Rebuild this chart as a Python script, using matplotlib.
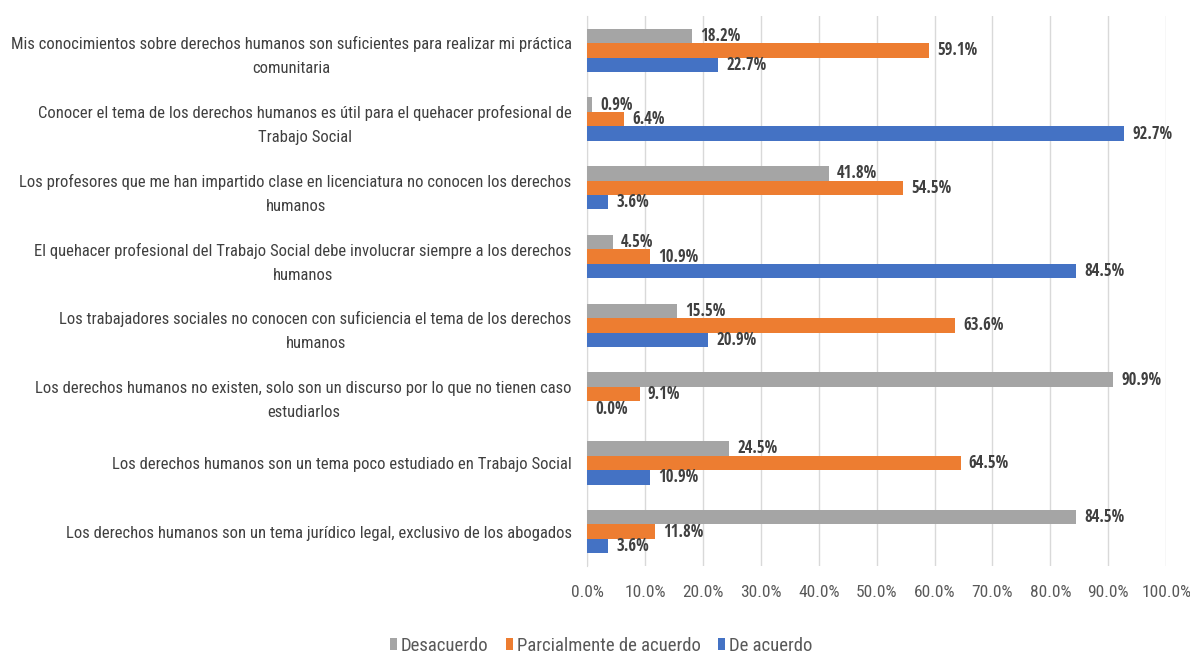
import numpy as np
import matplotlib.pyplot as plt
from matplotlib.ticker import FuncFormatter

plt.rcParams['font.family'] = ['Roboto Condensed', 'Carlito', 'DejaVu Sans']

categories = [
    'Mis conocimientos sobre derechos humanos son suficientes para realizar mi práctica\ncomunitaria',
    'Conocer el tema de los derechos humanos es útil para el quehacer profesional de\nTrabajo Social',
    'Los profesores que me han impartido clase en licenciatura no conocen los derechos\nhumanos',
    'El quehacer profesional del Trabajo Social debe involucrar siempre a los derechos\nhumanos',
    'Los trabajadores sociales no conocen con suficiencia el tema de los derechos\nhumanos',
    'Los derechos humanos no existen, solo son un discurso por lo que no tienen caso\nestudiarlos',
    'Los derechos humanos son un tema poco estudiado en Trabajo Social',
    'Los derechos humanos son un tema jurídico legal, exclusivo de los abogados',
]
desacuerdo = [18.2, 0.9, 41.8, 4.5, 15.5, 90.9, 24.5, 84.5]
parcial = [59.1, 6.4, 54.5, 10.9, 63.6, 9.1, 64.5, 11.8]
de_acuerdo = [22.7, 92.7, 3.6, 84.5, 20.9, 0.0, 10.9, 3.6]

series = [('Desacuerdo', desacuerdo, '#a5a5a5'),
          ('Parcialmente de acuerdo', parcial, '#ed7d31'),
          ('De acuerdo', de_acuerdo, '#4472c4')]

fig = plt.figure(figsize=(11.9, 6.54), dpi=100)
ax = fig.add_axes([0.4933, 0.1346, 0.4867, 0.841])

y = np.arange(len(categories))[::-1]
h = 0.21
for i, (name, vals, col) in enumerate(series):
    pos = y + h * (1 - i)
    ax.barh(pos, vals, height=h, color=col, label=name, zorder=3)
    for p, v in zip(pos, vals):
        ax.text(v + 1.4, p, f'{v:.1f}%', va='center', ha='left',
                family=['Open Sans Condensed', 'DejaVu Sans'],
                fontsize=12, fontweight='bold', color='#404040', zorder=4)

ax.set_xlim(0, 100)
ax.set_ylim(-0.5, len(categories) - 0.5)
ax.set_xticks(np.arange(0, 101, 10))
ax.xaxis.set_major_formatter(FuncFormatter(lambda v, _: f'{v:.1f}%'))
ax.set_yticks(y)
ax.set_yticklabels(categories, multialignment='center', linespacing=1.75)
ax.tick_params(axis='y', length=0, pad=11, labelsize=12, labelcolor='#404040')
ax.tick_params(axis='x', length=0, pad=14, labelsize=12.5, labelcolor='#595959')
ax.grid(axis='x', color='#d9d9d9', linewidth=1, zorder=0)
for s in ['top', 'right', 'bottom']:
    ax.spines[s].set_visible(False)
ax.spines['left'].set_color('#d9d9d9')

fig.legend(loc='lower center', bbox_to_anchor=(0.505, -0.027), ncol=3, frameon=False,
           fontsize=13.5, handlelength=0.4, handleheight=0.6, columnspacing=0.9,
           handletextpad=0.2, labelcolor='#595959')

fig.savefig('out.png', dpi=100)
